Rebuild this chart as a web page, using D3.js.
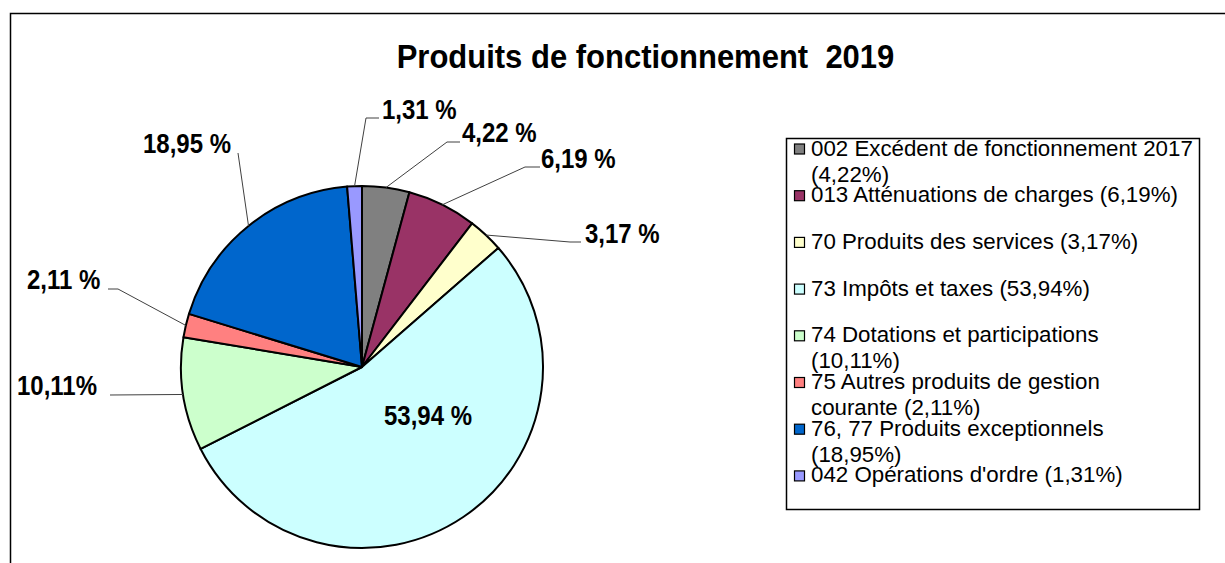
<!DOCTYPE html>
<html><head><meta charset="utf-8">
<script src="https://cdn.jsdelivr.net/npm/d3@7/dist/d3.min.js"></script>
<style>body{margin:0;background:#fff;} text{font-family:"Liberation Sans",Arial,sans-serif;}</style>
</head><body>
<svg id="c" width="1225" height="563"></svg>
<script>
const title = "Produits de fonctionnement  2019";
const categories = ["002 Excédent de fonctionnement 2017","013 Atténuations de charges","70 Produits des services","73 Impôts et taxes","74 Dotations et participations","75 Autres produits de gestion courante","76, 77 Produits exceptionnels","042 Opérations d'ordre"];
const values = [4.22, 6.19, 3.17, 53.94, 10.11, 2.11, 18.95, 1.31];
const sliceLabels = ["4,22 %","6,19 %","3,17 %","53,94 %","10,11%","2,11 %","18,95 %","1,31 %"];
const legendLines = [["002 Excédent de fonctionnement 2017","(4,22%)"],["013 Atténuations de charges (6,19%)"],["70 Produits des services (3,17%)"],["73 Impôts et taxes (53,94%)"],["74 Dotations et participations","(10,11%)"],["75 Autres produits de gestion","courante (2,11%)"],["76, 77 Produits exceptionnels","(18,95%)"],["042 Opérations d'ordre (1,31%)"]];
const colors = ["#808080","#993366","#FFFFCC","#CCFFFF","#CCFFCC","#FF8080","#0066CC","#9999FF"];

// layout (label text anchor & leader elbow), not data
const labelLayout = [
  {tx:462, ty:142, ex:447, ey:142, hx:460},
  {tx:541, ty:168, ex:525, ey:167, hx:540},
  {tx:585, ty:243, ex:570, ey:242, hx:581},
  {tx:384, ty:425, inside:true},
  {tx:17,  ty:395, ex:110, ey:395, hx:110},
  {tx:27,  ty:289, ex:118, ey:289, hx:108},
  {tx:143, ty:153, ex:238, ey:153, hx:238},
  {tx:382, ty:119, ex:366, ey:118, hx:379}
];

const svg = d3.select("#c");
// outer frame
svg.append("rect").attr("x",10.5).attr("y",13.5).attr("width",1300).attr("height",700)
  .attr("fill","none").attr("stroke","#000").attr("stroke-width",1.5);

// title
svg.append("text").attr("transform","translate(645.5,68) scale(1,1.1)")
  .attr("text-anchor","middle").attr("font-size",31).attr("font-weight","bold")
  .style("white-space","pre").attr("xml:space","preserve").attr("fill","#000").text(title);

const cx = 362, cy = 367, R = 181;
const pie = d3.pie().sort(null).value(d=>d).startAngle(0).endAngle(2*Math.PI);
const arcs = pie(values);
const arc = d3.arc().innerRadius(0).outerRadius(R);
const g = svg.append("g").attr("transform",`translate(${cx},${cy})`);
g.selectAll("path").data(arcs).join("path").attr("d",arc)
  .attr("fill",(d,i)=>colors[i]).attr("stroke","#000").attr("stroke-width",2).attr("stroke-linejoin","round");

// leader lines
arcs.forEach((d,i)=>{
  const L = labelLayout[i];
  if(L.inside) return;
  const a = (d.startAngle+d.endAngle)/2;
  const px = cx + R*Math.sin(a), py = cy - R*Math.cos(a);
  svg.append("polyline").attr("points",`${px},${py} ${L.ex},${L.ey} ${L.hx},${L.ey}`)
    .attr("fill","none").attr("stroke","#404040").attr("stroke-width",1);
});
// labels
arcs.forEach((d,i)=>{
  const L = labelLayout[i];
  svg.append("text").attr("transform",`translate(${L.tx},${L.ty}) scale(1,1.17)`)
    .attr("font-size",24).attr("font-weight","bold").attr("fill","#000").text(sliceLabels[i]);
});

// legend
svg.append("rect").attr("x",786.5).attr("y",138.5).attr("width",413).attr("height",371)
  .attr("fill","#fff").attr("stroke","#000").attr("stroke-width",1.5);
const lg = svg.append("g");
categories.forEach((c,i)=>{
  const by = 155.5 + i*46.7;
  lg.append("rect").attr("x",794.5).attr("y",by-11.5).attr("width",10).attr("height",10)
    .attr("fill",colors[i]).attr("stroke","#000").attr("stroke-width",1.2);
  const t = lg.append("text").attr("x",811).attr("y",by).attr("font-size",22.3).attr("fill","#000");
  legendLines[i].forEach((ln,j)=>{
    t.append("tspan").attr("x",811).attr("y",by+j*26).text(ln);
  });
});
</script>
</body></html>
